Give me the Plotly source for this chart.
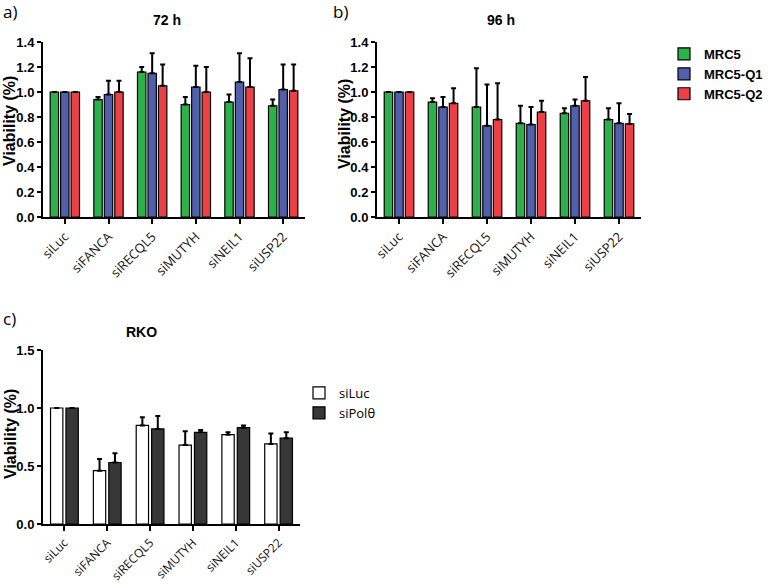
import plotly.graph_objects as go

categories = ["siLuc", "siFANCA", "siRECQL5", "siMUTYH", "siNEIL1", "siUSP22"]

# Panel a (72 h)
a_mrc5 = [1.0, 0.94, 1.16, 0.90, 0.92, 0.89]
a_mrc5_err = [0.0, 0.02, 0.04, 0.06, 0.06, 0.05]
a_q1 = [1.0, 0.98, 1.15, 1.04, 1.08, 1.02]
a_q1_err = [0.0, 0.11, 0.16, 0.17, 0.23, 0.20]
a_q2 = [1.0, 1.00, 1.05, 1.00, 1.04, 1.01]
a_q2_err = [0.0, 0.09, 0.17, 0.20, 0.23, 0.21]

# Panel b (96 h)
b_mrc5 = [1.0, 0.92, 0.88, 0.75, 0.83, 0.78]
b_mrc5_err = [0.0, 0.03, 0.31, 0.14, 0.04, 0.09]
b_q1 = [1.0, 0.88, 0.73, 0.74, 0.89, 0.75]
b_q1_err = [0.0, 0.08, 0.33, 0.14, 0.05, 0.16]
b_q2 = [1.0, 0.91, 0.78, 0.84, 0.93, 0.745]
b_q2_err = [0.0, 0.12, 0.29, 0.09, 0.19, 0.08]

# Panel c (RKO)
c_siluc = [1.0, 0.46, 0.85, 0.68, 0.77, 0.69]
c_siluc_err = [0.0, 0.10, 0.07, 0.12, 0.02, 0.09]
c_sipol = [1.0, 0.53, 0.82, 0.79, 0.83, 0.74]
c_sipol_err = [0.0, 0.08, 0.11, 0.02, 0.02, 0.05]

GREEN = "rgb(45,178,75)"
BLUE = "rgb(82,96,172)"
RED = "rgb(236,64,70)"
DARK = "rgb(55,55,55)"

W, H = 771, 586


def px_x(v):
    return v / W


def px_y(v):
    return 1 - v / H


fig = go.Figure()


def add_bar(name, y, err, color, xa, ya, legend, showlegend=True):
    fig.add_trace(go.Bar(
        x=categories, y=y, name=name,
        marker=dict(color=color, line=dict(color="black", width=1.2)),
        error_y=dict(type="data", array=err, arrayminus=[0] * len(err), symmetric=False,
                     color="black", thickness=2, width=2.5),
        xaxis=xa, yaxis=ya, legend=legend, showlegend=showlegend,
    ))


add_bar("MRC5", a_mrc5, a_mrc5_err, GREEN, "x", "y", "legend")
add_bar("MRC5-Q1", a_q1, a_q1_err, BLUE, "x", "y", "legend")
add_bar("MRC5-Q2", a_q2, a_q2_err, RED, "x", "y", "legend")
add_bar("MRC5", b_mrc5, b_mrc5_err, GREEN, "x2", "y2", "legend", False)
add_bar("MRC5-Q1", b_q1, b_q1_err, BLUE, "x2", "y2", "legend", False)
add_bar("MRC5-Q2", b_q2, b_q2_err, RED, "x2", "y2", "legend", False)
add_bar("siLuc", c_siluc, c_siluc_err, "white", "x3", "y3", "legend2")
add_bar("siPolθ", c_sipol, c_sipol_err, DARK, "x3", "y3", "legend2")

tickfont_y = dict(family="Liberation Sans, Arial", size=13, color="black", weight="bold")
tickfont_x = dict(family="Open Sans, Noto Sans", size=13, color="#111")
tickfont_x3 = dict(family="Open Sans, Noto Sans", size=12, color="#111")
title_font = dict(family="Liberation Sans, Arial", size=16, color="black", weight="bold")

xcommon = dict(showline=True, linecolor="black", linewidth=2, ticks="outside",
               ticklen=5, tickwidth=2, tickcolor="black", tickangle=-45,
               showgrid=False, zeroline=False, automargin=False)
ycommon = dict(showline=True, linecolor="black", linewidth=2, ticks="outside",
               ticklen=4, tickwidth=2, tickcolor="black", tickfont=tickfont_y,
               showgrid=False, zeroline=False, automargin=False, tickformat=".1f")

fig.update_layout(
    width=W, height=H, margin=dict(l=0, r=0, t=0, b=0, autoexpand=False),
    paper_bgcolor="white", plot_bgcolor="white",
    barmode="group", bargap=0.28, bargroupgap=0.2,
    xaxis=dict(domain=[px_x(43), px_x(305)], anchor="y", tickfont=tickfont_x, **xcommon),
    yaxis=dict(domain=[px_y(217), px_y(42)], anchor="x", range=[0, 1.4], dtick=0.2, **ycommon),
    xaxis2=dict(domain=[px_x(377), px_x(641)], anchor="y2", tickfont=tickfont_x, **xcommon),
    yaxis2=dict(domain=[px_y(217), px_y(42)], anchor="x2", range=[0, 1.4], dtick=0.2, **ycommon),
    xaxis3=dict(domain=[px_x(43), px_x(300)], anchor="y3", tickfont=tickfont_x3, **xcommon),
    yaxis3=dict(domain=[px_y(524), px_y(350)], anchor="x3", range=[0, 1.5], dtick=0.5, **ycommon),
    legend=dict(x=px_x(664), y=px_y(39), xanchor="left", yanchor="top",
                font=dict(family="Liberation Sans, Arial", size=13, color="black", weight="bold"),
                bgcolor="rgba(0,0,0,0)", tracegroupgap=0),
    legend2=dict(x=px_x(299), y=px_y(378), xanchor="left", yanchor="top",
                 font=dict(family="Open Sans, Noto Sans", size=13, color="black"),
                 bgcolor="rgba(0,0,0,0)", tracegroupgap=0),
    showlegend=True,
)

ann_font_title = dict(family="Liberation Sans, Arial", size=14, color="black", weight="bold")
ann_font_label = dict(family="Open Sans, Noto Sans", size=17, color="black")
annotations = [
    dict(text="72 h", x=px_x(167), y=px_y(20), font=ann_font_title),
    dict(text="96 h", x=px_x(501), y=px_y(20), font=ann_font_title),
    dict(text="RKO", x=px_x(141), y=px_y(332), font=ann_font_title),
    dict(text="a)", x=px_x(1), y=px_y(12), xanchor="left", font=ann_font_label),
    dict(text="b)", x=px_x(331), y=px_y(12), xanchor="left", font=ann_font_label),
    dict(text="c)", x=px_x(1), y=px_y(318), xanchor="left", font=ann_font_label),
    dict(text="Viability (%)", x=px_x(10), y=px_y(121), textangle=-90, font=title_font),
    dict(text="Viability (%)", x=px_x(344), y=px_y(124), textangle=-90, font=title_font),
    dict(text="Viability (%)", x=px_x(10), y=px_y(434), textangle=-90, font=title_font),
]
for a in annotations:
    a.update(xref="paper", yref="paper", showarrow=False, yanchor="middle")
    a.setdefault("xanchor", "center")
fig.update_layout(annotations=annotations)

fig.write_html("out.html", config={"displayModeBar": False},
               post_script="document.body.style.margin='0';")
